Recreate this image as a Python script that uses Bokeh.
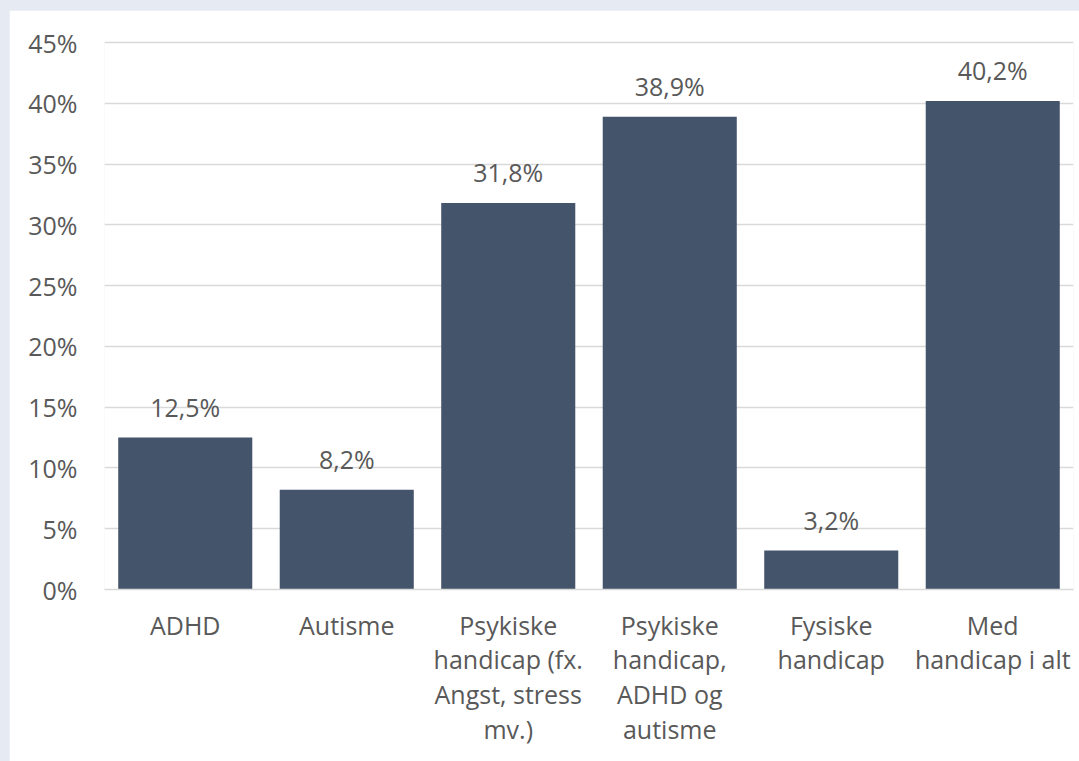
from bokeh.plotting import figure
from bokeh.models import FactorRange, Range1d, ColumnDataSource, PrintfTickFormatter, FixedTicker, GlobalInlineStyleSheet
from bokeh.core.properties import value
from bokeh.embed import file_html
from bokeh.resources import INLINE

categories = [
    "ADHD",
    "Autisme",
    "Psykiske\nhandicap (fx.\nAngst, stress\nmv.)",
    "Psykiske\nhandicap,\nADHD og\nautisme",
    "Fysiske\nhandicap",
    "Med\nhandicap i alt",
]
shares = [12.5, 8.2, 31.8, 38.9, 3.2, 40.2]
y_ticks = [0, 5, 10, 15, 20, 25, 30, 35, 40, 45]

share_labels = [f"{v:.1f}".replace(".", ",") + "%" for v in shares]

TEXT = "#595959"
BAR = "#44546A"
GRID = "#D9D9D9"
FONT = "Open Sans"
FS = "25px"

src = ColumnDataSource(dict(cat=categories, share=shares, label=share_labels))

p = figure(
    width=1070, height=751,
    x_range=FactorRange(*categories, range_padding=0),
    y_range=Range1d(0, 45.1),
    output_backend="svg", toolbar_location=None,
    min_border_left=95, min_border_right=6, min_border_top=31, min_border_bottom=172,
)
p.outline_line_color = None
p.background_fill_color = "white"
p.border_fill_color = "white"

p.vbar(x="cat", top="share", width=0.83, source=src, color=BAR, line_color=None)
p.text(x="cat", y="share", text="label", source=src, text_align="center",
       text_baseline="alphabetic", y_offset=-31,
       text_font=value(FONT), text_font_size=value(FS), text_color=TEXT)

p.xgrid.grid_line_color = None
p.ygrid.grid_line_color = GRID
p.ygrid.grid_line_width = 1.5
p.yaxis.ticker = FixedTicker(ticks=y_ticks)
p.yaxis.formatter = PrintfTickFormatter(format="%d%%")
p.yaxis.axis_line_color = None
p.yaxis.major_tick_line_color = None
p.yaxis.minor_tick_line_color = None
p.yaxis.major_label_standoff = 21
p.yaxis.major_label_text_font = FONT
p.yaxis.major_label_text_font_size = FS
p.yaxis.major_label_text_color = TEXT

p.xaxis.axis_line_color = GRID
p.xaxis.axis_line_width = 1.5
p.xaxis.major_tick_line_color = None
p.xaxis.minor_tick_line_color = None
p.xaxis.major_label_standoff = 12
p.xaxis.major_label_text_font = FONT
p.xaxis.major_label_text_font_size = FS
p.xaxis.major_label_text_color = TEXT
p.xaxis.major_label_text_line_height = 1.02

p.stylesheets = [GlobalInlineStyleSheet(css=(
    "html, body { background: #E6EAF3; } body { padding: 10px 0 0 9px; }"
))]

open("out.html", "w").write(file_html(p, INLINE))
